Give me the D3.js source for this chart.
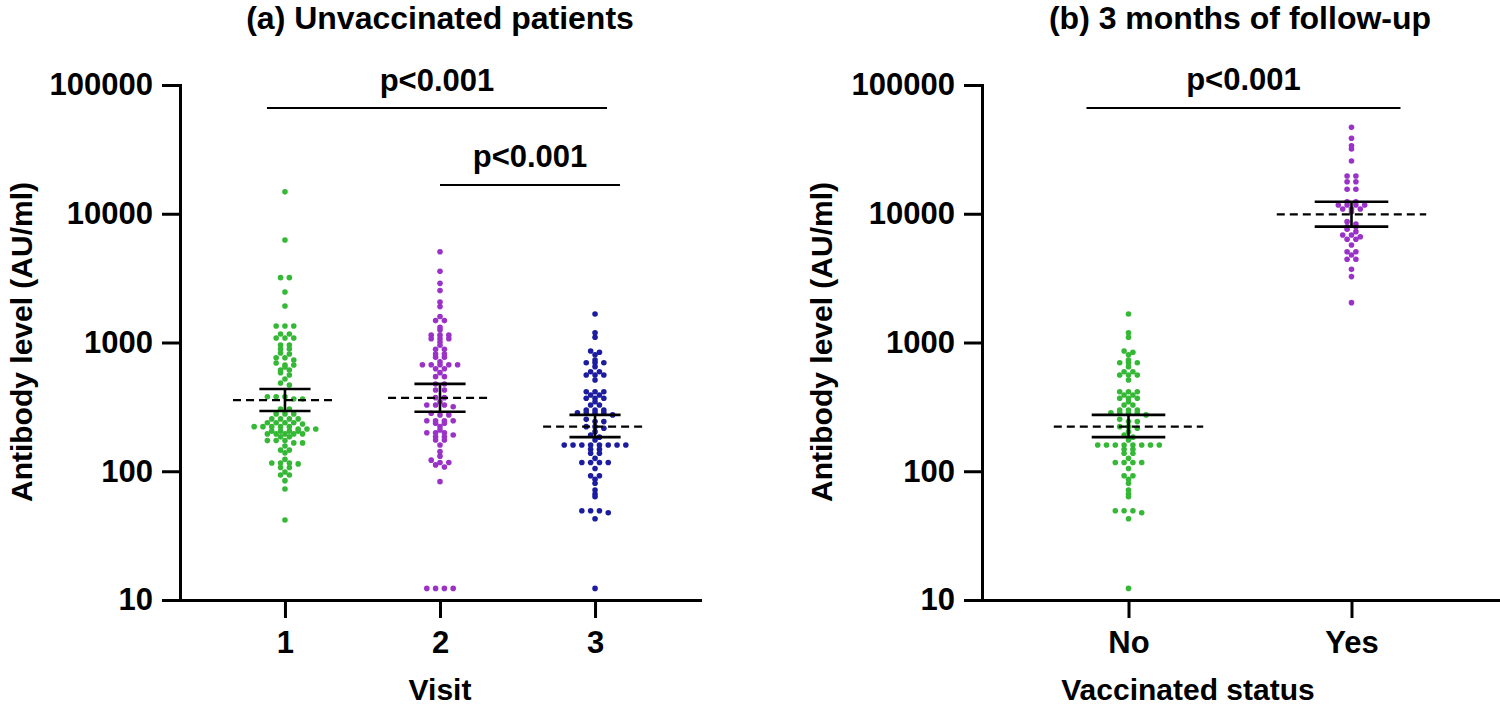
<!DOCTYPE html>
<html>
<head>
<meta charset="utf-8">
<script src="https://cdn.jsdelivr.net/npm/d3@7"></script>
<style>
  html, body { margin: 0; padding: 0; background: #fff; }
  svg { display: block; }
  text { font-family: "Liberation Sans", Arial, sans-serif; font-weight: bold; fill: #000; }
</style>
</head>
<body>
<svg id="chart" width="1500" height="713"></svg>
<script>
// ---------------- DATA ----------------
const visitCategories = ["1", "2", "3"];
const statusCategories = ["No", "Yes"];
const yTickValues = [10, 100, 1000, 10000, 100000];

const visit1Values = [14800, 6250, 3190, 3190, 2470, 1920, 1343, 1343, 1343, 1164, 1164, 1084, 1084, 1084,
  957, 957, 891, 891, 829, 814, 762, 762, 731, 693, 669, 669, 645, 611, 611, 583, 559, 521, 485, 468,
  379, 379, 379, 364, 364, 304, 304, 279, 279, 279, 255, 255, 255, 255, 238, 238, 238, 238, 233,
  222, 222, 222, 222, 222, 213, 213, 213, 205, 205, 205, 205, 195, 195, 195, 195, 195, 185, 185,
  173, 173, 173, 166, 166, 157, 146, 146, 139, 124, 116, 116, 116, 114, 107, 107, 98.6, 93.5, 93.5,
  84.5, 72.8, 41.8];

const visit2Values = [5070, 3570, 2880, 2530, 2060, 1900, 1590, 1480, 1480, 1310, 1250, 1140, 1140, 1140,
  1070, 1070, 1070, 1010, 951, 885, 885, 814, 814, 767, 767, 709, 672, 672, 672, 672, 672, 626, 626,
  583, 543, 543, 476, 476, 428, 428, 373, 373, 347, 327, 327, 327, 317, 282, 274, 274, 247, 247, 247,
  247, 236, 236, 222, 209, 199, 199, 199, 191, 185, 185, 175, 175, 160, 142, 131, 122, 117, 117, 112,
  108, 83, 12.3, 12.3, 12.3, 12.3];

const visit3Values = [1665, 1192, 1098, 859, 839, 804, 731, 697, 697, 697, 649, 593, 593, 559, 559, 559,
  511, 415, 415, 415, 391, 391, 369, 369, 369, 347, 327, 327, 299, 299, 299, 285, 285, 285, 285, 274,
  253, 243, 243, 222, 222, 216, 203, 191, 184, 175, 160, 160, 160, 160, 160, 160, 160, 160, 148, 148,
  138, 138, 126, 117, 117, 117, 117, 105, 92.3, 92.3, 86.6, 80.6, 71.5, 66.6, 63.4, 49.4, 49.4, 49.4,
  47.6, 42.8, 12.3];

const unvaccinatedValues = visit3Values.slice();
const vaccinatedValues = [46900, 38550, 33770, 31840, 25690, 19650, 19650, 17740, 17740, 15480, 15480,
  12400, 12400, 11690, 11690, 11690, 11690, 10890, 10890, 10890, 10370, 8680, 8330, 7930, 7930, 7570,
  7260, 6840, 6840, 6630, 6330, 6330, 5720, 5070, 5070, 4780, 4430, 4430, 3700, 3250, 2040];

// central value with lower / upper error-bar limits
const visitCenter = [357, 372, 222];
const visitLower  = [294, 290, 184];
const visitUpper  = [435, 477, 274];
const statusCenter = [222, 9900];
const statusLower  = [184, 7940];
const statusUpper  = [274, 12400];

// significance brackets: [from category, to category, level, label]
const visitComparisons = [["1", "3", 66300, "p<0.001"], ["2", "3", 16700, "p<0.001"]];
const statusComparisons = [["No", "Yes", 66300, "p<0.001"]];

// ---------------- LAYOUT ----------------
const svg = d3.select("#chart");
const colors = { green: "#35b835", purple: "#9b32c8", navy: "#1c1ca0" };

function swarm(values, cx, y, step) {
  const pts = values.map(v => ({ v, py: y(v) })).sort((a, b) => a.py - b.py);
  const rows = [];
  let cur = null;
  pts.forEach(p => {
    if (cur && p.py - cur[0].py <= 2.5) cur.push(p);
    else { cur = [p]; rows.push(cur); }
  });
  rows.forEach(r => {
    const n = r.length;
    r.forEach((p, i) => { p.px = cx + (i - (n - 1) / 2) * step; });
  });
  return pts;
}

function panel(cfg) {
  const g = svg.append("g");
  const x = d3.scalePoint().domain(cfg.categories).range(cfg.xRange).padding(cfg.padding);
  const y = d3.scaleLog().domain([10, 100000]).range([600, 85]);
  const step = x.step();

  const ya = g.append("g").attr("transform", `translate(${cfg.xRange[0]},0)`)
    .call(d3.axisLeft(y).tickValues(yTickValues).tickFormat(d3.format("d"))
      .tickSize(18).tickSizeOuter(0).tickPadding(9));
  const xa = g.append("g").attr("transform", `translate(0,600)`)
    .call(d3.axisBottom(x).tickSize(18).tickSizeOuter(0).tickPadding(13));
  [ya, xa].forEach(a => {
    a.selectAll("path.domain").attr("stroke", "#000").attr("stroke-width", 3).attr("stroke-linecap", "square");
    a.selectAll(".tick line").attr("stroke", "#000").attr("stroke-width", 3);
    a.selectAll(".tick text").attr("font-size", 31).attr("font-family", "'Liberation Sans', Arial, sans-serif")
      .attr("font-weight", "bold").attr("fill", "#000");
  });

  cfg.groups.forEach((vals, i) => {
    const cx = x(cfg.categories[i]);
    const pts = swarm(vals, cx, y, 8.8);
    g.append("g").selectAll("circle").data(pts).join("circle")
      .attr("cx", d => d.px).attr("cy", d => d.py).attr("r", 2.8)
      .attr("fill", cfg.colors[i]);
  });

  cfg.categories.forEach((c, i) => {
    const cx = x(c);
    const eg = g.append("g").attr("stroke", "#000").attr("fill", "none");
    eg.append("line").attr("x1", cx - 0.335 * step).attr("x2", cx + 0.335 * step)
      .attr("y1", y(cfg.center[i])).attr("y2", y(cfg.center[i]))
      .attr("stroke-width", 2.2).attr("stroke-dasharray", "8,5");
    eg.append("line").attr("x1", cx).attr("x2", cx)
      .attr("y1", y(cfg.lower[i])).attr("y2", y(cfg.upper[i])).attr("stroke-width", 2.6);
    [cfg.lower[i], cfg.upper[i]].forEach(v => {
      eg.append("line").attr("x1", cx - 0.165 * step).attr("x2", cx + 0.165 * step)
        .attr("y1", y(v)).attr("y2", y(v)).attr("stroke-width", 2.6);
    });
  });

  cfg.comparisons.forEach((c, k) => {
    const ext = cfg.bracketExt[k];
    const x1 = x(c[0]) + ext[0], x2 = x(c[1]) + ext[1];
    const yy = y(c[2]);
    g.append("line").attr("x1", x1).attr("x2", x2).attr("y1", yy).attr("y2", yy)
      .attr("stroke", "#000").attr("stroke-width", 2);
    g.append("text").attr("x", (x1 + x2) / 2).attr("y", yy - cfg.pOffset[k])
      .attr("text-anchor", "middle").attr("font-size", 31).text(c[3]);
  });

  const mid = (cfg.xRange[0] + cfg.xRange[1]) / 2;
  g.append("text").attr("x", mid).attr("y", 29).attr("text-anchor", "middle")
    .attr("font-size", 32).text(cfg.title);
  g.append("text").attr("x", cfg.xTitleX).attr("y", 700).attr("text-anchor", "middle")
    .attr("font-size", 30).text(cfg.xTitle);
  g.append("text").attr("transform", `translate(${cfg.yTitleX},342) rotate(-90)`)
    .attr("text-anchor", "middle").attr("font-size", 30).text("Antibody level (AU/ml)");
}

panel({
  categories: visitCategories, xRange: [180, 700], padding: 0.677,
  groups: [visit1Values, visit2Values, visit3Values],
  colors: [colors.green, colors.purple, colors.navy],
  center: visitCenter, lower: visitLower, upper: visitUpper,
  comparisons: visitComparisons, bracketExt: [[-18, 12], [0, 25]], pOffset: [17, 18],
  title: "(a) Unvaccinated patients", xTitle: "Visit", xTitleX: 440, yTitleX: 32
});

panel({
  categories: statusCategories, xRange: [982, 1498], padding: 0.657,
  groups: [unvaccinatedValues, vaccinatedValues],
  colors: [colors.green, colors.purple],
  center: statusCenter, lower: statusLower, upper: statusUpper,
  comparisons: statusComparisons, bracketExt: [[-42, 49]], pOffset: [18],
  title: "(b) 3 months of follow-up", xTitle: "Vaccinated status", xTitleX: 1188, yTitleX: 832
});
</script>
</body>
</html>
